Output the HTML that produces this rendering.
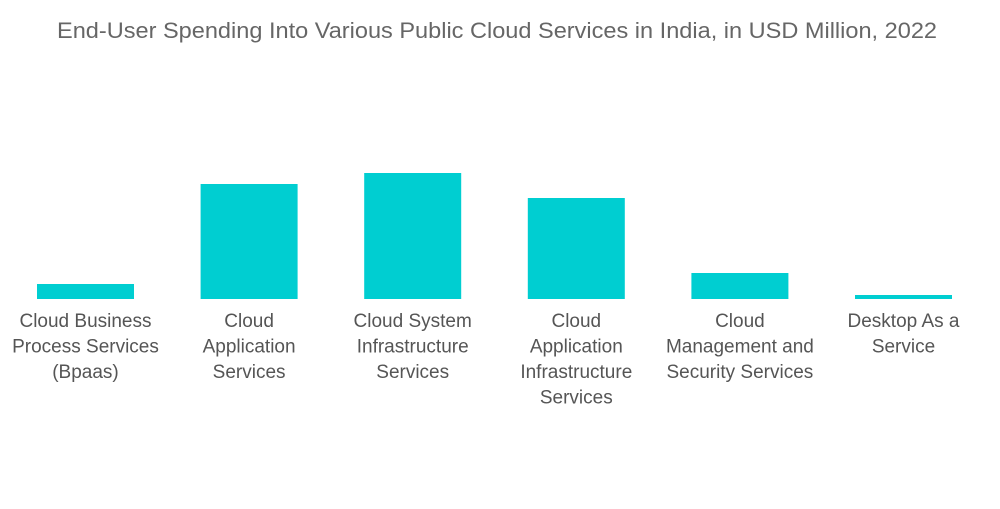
<!DOCTYPE html>
<html><head><meta charset="utf-8"><style>
body{margin:0;background:#fff;width:1000px;height:504px;overflow:hidden;font-family:"Liberation Sans",sans-serif}
</style></head><body>
<svg id="chart" width="1000" height="504">
<text x="57" y="38" textLength="880" lengthAdjust="spacingAndGlyphs" font-size="22" fill="#666">End-User Spending Into Various Public Cloud Services in India, in USD Million, 2022</text>
<g id="bars"></g><g id="labels"></g>
</svg>
<script>
const categories=[["Cloud Business","Process Services","(Bpaas)"],["Cloud","Application","Services"],["Cloud System","Infrastructure","Services"],["Cloud","Application","Infrastructure","Services"],["Cloud","Management and","Security Services"],["Desktop As a","Service"]];
const values=[15,115,126,101,26,4];
const baseY=299, scale=1.0, left=37, step=163.6, barW=97;
function y(v){return baseY-v*scale;}
function x(i){return left+i*step;}
const ns="http://www.w3.org/2000/svg";
const bars=document.getElementById('bars'), labels=document.getElementById('labels');
values.forEach((v,i)=>{
 const r=document.createElementNS(ns,'rect');
 r.setAttribute('x',x(i));r.setAttribute('y',y(v));r.setAttribute('width',barW);r.setAttribute('height',baseY-y(v));r.setAttribute('fill','#00ced1');
 
 
 bars.appendChild(r);
 const t=document.createElementNS(ns,'text');
 t.setAttribute('text-anchor','middle');t.setAttribute('font-size','19');t.setAttribute('fill','#555');
 
 
 categories[i].forEach((line,j)=>{
  const s=document.createElementNS(ns,'tspan');
  s.setAttribute('x',x(i)+barW/2);s.setAttribute('y',327+j*25.5);s.textContent=line;t.appendChild(s);
 });
 labels.appendChild(t);
});
</script>
</body></html>
